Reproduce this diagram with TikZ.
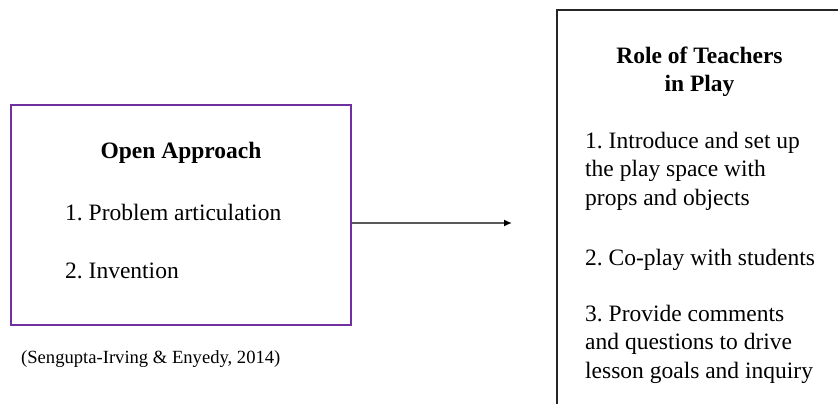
\documentclass[tikz,border=0pt]{standalone}
\usepackage{fontspec}
\setmainfont{Liberation Serif}
\usetikzlibrary{arrows.meta}
\definecolor{boxpurple}{HTML}{7030A0}
\definecolor{linegray}{HTML}{595959}
\definecolor{boxdark}{HTML}{262626}
\frenchspacing
\tikzset{
  body/.style={font=\fontsize{23.5}{28.5}\selectfont, inner sep=0pt, align=left, anchor=base west},
  heading/.style={font=\fontsize{23.5}{28.5}\selectfont\bfseries, inner sep=0pt, align=center, anchor=base},
  frame/.style={line width=2pt, minimum width=#1, inner sep=0pt},
}
\begin{document}
\begin{tikzpicture}[x=1pt, y=-1pt]
\useasboundingbox (0,0) rectangle (838,404);
\clip (0,0) rectangle (838,404);

% left: open approach
\node[frame=340pt, draw=boxpurple, minimum height=220pt] (openbox) at (181,215) {};
\node[heading] (opentitle) at (181,158) {Open Approach};
\node[body] (openone) at (65,220) {1. Problem articulation};
\node[body] (opentwo) at (65,278) {2. Invention};
\node[font=\fontsize{18.6}{22}\selectfont, inner sep=0pt, anchor=base west] (cite) at (21,363) {(Sengupta-Irving \& Enyedy, 2014)};

% arrow
\coordinate (arrowend) at (512,223);
\draw[linegray, line width=1.5pt, -{Latex[black, length=8pt, width=7pt]}] (openbox.east |- arrowend) -- (arrowend);

% right: role of teachers (base = last line)
\node[frame=285pt, draw=boxdark, minimum height=410pt] (rolebox) at (699.5,215.5) {};
\node[heading] (roletitle) at (699.5,92) {Role of Teachers\\in Play};
\node[body] (roleone) at (585,205) {1. Introduce and set up\\the play space with\\props and objects};
\node[body] (roletwo) at (585,265) {2. Co-play with students};
\node[body] (rolethree) at (585,378) {3. Provide comments\\and questions to drive\\lesson goals and inquiry};

\end{tikzpicture}
\end{document}
